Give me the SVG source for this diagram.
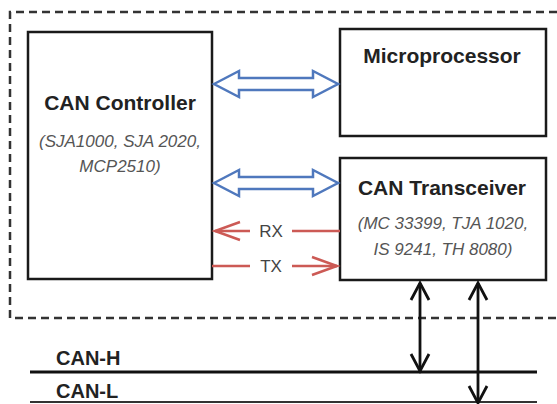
<svg xmlns="http://www.w3.org/2000/svg" width="557" height="404" viewBox="0 0 557 404">
<style>
.box{fill:#fff;stroke:#1a1a1a;stroke-width:2.5}
.title{font-family:"Liberation Sans",Arial,sans-serif;font-weight:bold;font-size:21px;fill:#222;text-anchor:middle}
.sub{font-family:"Liberation Sans",Arial,sans-serif;font-style:italic;font-size:17px;fill:#555;text-anchor:middle}
.lbl{font-family:"Liberation Sans",Arial,sans-serif;font-size:17px;fill:#444;text-anchor:middle}
.blue{fill:#fff;stroke:#4f78bd;stroke-width:2.5;stroke-linejoin:miter}
.red{fill:none;stroke:#cc5a55;stroke-width:2.5}
.blk{fill:none;stroke:#111;stroke-width:2.8}
</style>
<rect width="557" height="404" fill="#fff"/>
<path d="M570,12 H10 V318 H570" fill="none" stroke="#333" stroke-width="2.5" stroke-dasharray="8,5"/>
<g id="can-controller">
<rect class="box" x="28" y="32" width="184" height="247"/>
<text class="title" x="120" y="110">CAN Controller</text>
<text class="sub" x="120" y="147">(SJA1000, SJA 2020,</text>
<text class="sub" x="120" y="172">MCP2510)</text>
</g>
<g id="microprocessor">
<rect class="box" x="340" y="29" width="206" height="107"/>
<text class="title" x="442" y="63">Microprocessor</text>
</g>
<g id="can-transceiver">
<rect class="box" x="340" y="158" width="206" height="122"/>
<text class="title" x="442" y="195">CAN Transceiver</text>
<text class="sub" x="443" y="229">(MC 33399, TJA 1020,</text>
<text class="sub" x="443" y="255">IS 9241, TH 8080)</text>
</g>
<g id="bus">
<line x1="30" y1="372" x2="537" y2="372" stroke="#111" stroke-width="3"/>
<line x1="30" y1="402" x2="537" y2="402" stroke="#333" stroke-width="2"/>
<text class="title" x="56" y="365" style="text-anchor:start;font-size:20px">CAN-H</text>
<text class="title" x="56" y="398" style="text-anchor:start;font-size:20px">CAN-L</text>
</g>
<g id="connectors">
<path class="blue" d="M214,84 L239,71 L239,78 L313,78 L313,71 L338,84 L313,97 L313,90 L239,90 L239,97 Z"/>
<path class="blue" d="M214,183 L239,170 L239,177 L313,177 L313,170 L338,183 L313,196 L313,189 L239,189 L239,196 Z"/>
<line class="red" x1="340" y1="231" x2="292" y2="231"/>
<line class="red" x1="250" y1="231" x2="215" y2="231"/>
<path class="red" d="M240,222 L215,231 L240,240"/>
<text class="lbl" x="271" y="237">RX</text>
<line class="red" x1="212" y1="266" x2="250" y2="266"/>
<line class="red" x1="292" y1="266" x2="337" y2="266"/>
<path class="red" d="M312,257 L337,266 L312,275"/>
<text class="lbl" x="271" y="272">TX</text>
<line class="blk" x1="420" y1="283" x2="420" y2="371"/>
<path class="blk" d="M411,300 L420,283 L429,300 M411,354 L420,371 L429,354"/>
<line class="blk" x1="478" y1="283" x2="478" y2="403"/>
<path class="blk" d="M469,300 L478,283 L487,300 M469,386 L478,403 L487,386"/>
</g>
</svg>
